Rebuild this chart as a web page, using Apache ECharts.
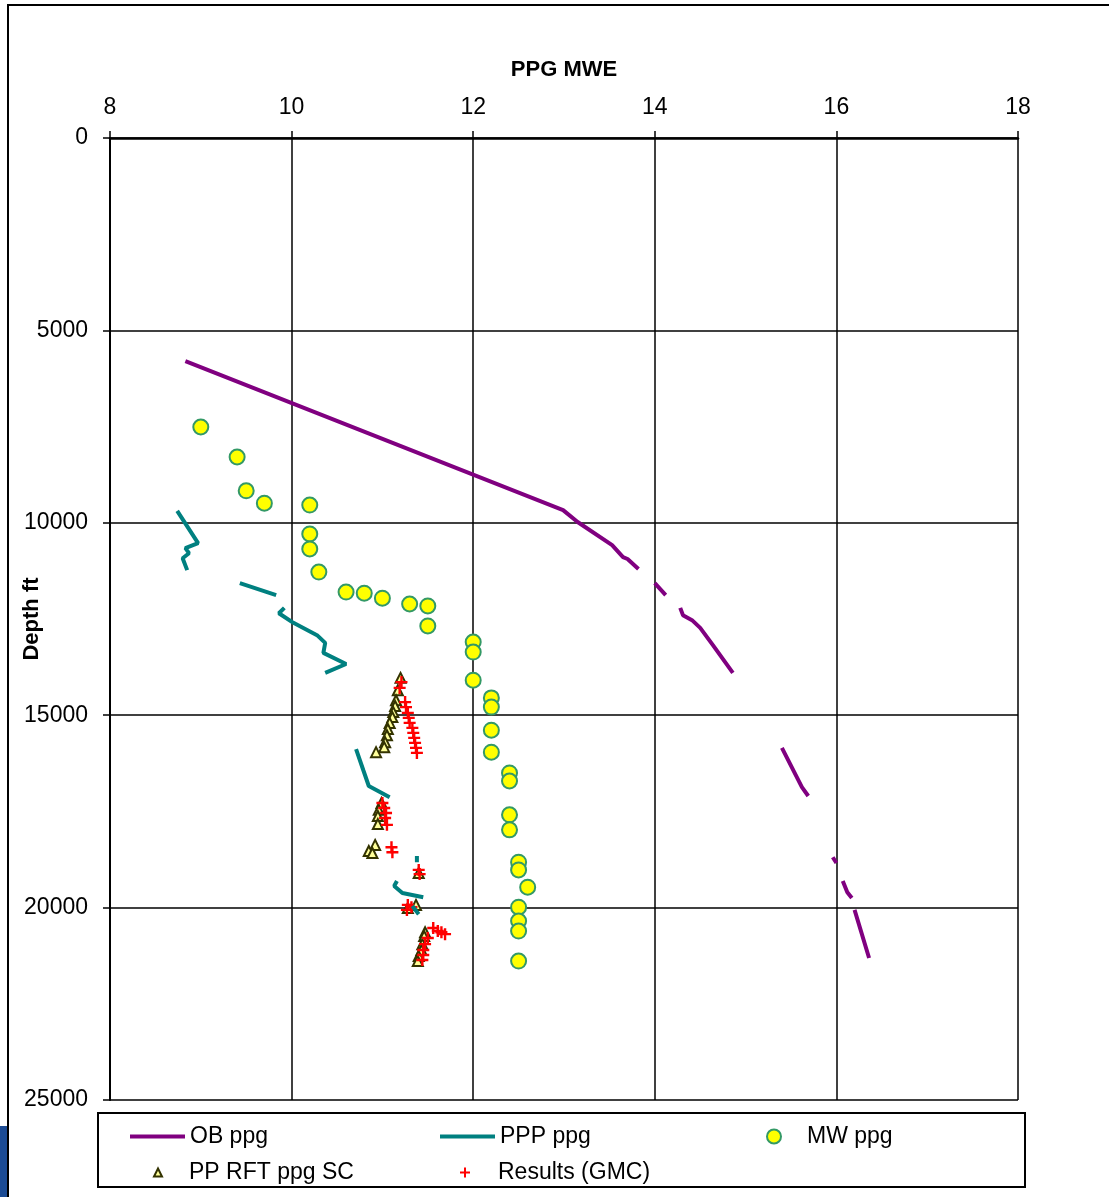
<!DOCTYPE html>
<html>
<head>
<meta charset="utf-8">
<script src="https://cdn.jsdelivr.net/npm/echarts@6/dist/echarts.min.js"></script>
<style>
html, body { margin: 0; padding: 0; background: #fff; }
#chart { width: 1109px; height: 1197px; }
</style>
</head>
<body>
<div id="chart"></div>
<script>
// overburden gradient, segments split by nulls
var obPpg   = [8.83, 12.99, 13.15, 13.53, 13.65, 13.70, 13.82, null, 14.00, 14.12, null, 14.28, 14.31, 14.41, 14.50, 14.64, 14.86, null, 15.40, 15.62, 15.69, null, 15.96, 16.00, null, 16.07, 16.12, 16.17, null, 16.20, 16.36];
var obDepth = [5800, 9670, 9980, 10580, 10890, 10940, 11200, null, 11570, 11880, null, 12210, 12400, 12530, 12730, 13180, 13900, null, 15850, 16870, 17100, null, 18690, 18840, null, 19310, 19600, 19750, null, 20060, 21310];

// predicted pore pressure
var pppPpg   = [8.74, 8.97, 8.83, 8.87, 8.80, 8.85, null, 9.43, 9.83, null, 9.92, 9.86, 10.02, 10.28, 10.37, 10.35, 10.60, 10.37, null, 10.71, 10.79, 10.85, 11.08, null, 11.38, 11.38, null, 11.16, 11.13, 11.22, 11.45, null, 11.33, 11.40];
var pppDepth = [9690, 10530, 10660, 10790, 10920, 11230, null, 11570, 11880, null, 12210, 12350, 12600, 12920, 13120, 13380, 13670, 13900, null, 15880, 16430, 16840, 17130, null, 18660, 18820, null, 19310, 19440, 19620, 19730, null, 19960, 20170];

// mud weight
var mwPpg   = [9.0, 9.4, 9.5, 9.7, 10.2, 10.2, 10.2, 10.3, 10.6, 10.8, 11.0, 11.3, 11.5, 11.5, 12.0, 12.0, 12.0, 12.2, 12.2, 12.2, 12.2, 12.4, 12.4, 12.4, 12.4, 12.5, 12.5, 12.6, 12.5, 12.5, 12.5, 12.5];
var mwDepth = [7510, 8290, 9170, 9490, 9540, 10290, 10680, 11280, 11800, 11830, 11960, 12110, 12160, 12680, 13100, 13360, 14090, 14550, 14790, 15390, 15960, 16500, 16710, 17590, 17980, 18820, 19020, 19470, 19990, 20350, 20610, 21390];

// RFT pore pressure
var rftPpg   = [11.20, 11.17, 11.15, 11.14, 11.12, 11.11, 11.08, 11.06, 11.05, 11.03, 11.02, 10.93, 10.99, 10.96, 10.95, 10.95, 10.92, 10.85, 10.89, 11.40, 11.28, 11.37, 11.47, 11.46, 11.44, 11.43, 11.40, 11.39];
var rftDepth = [14030, 14350, 14610, 14760, 14920, 15050, 15200, 15360, 15520, 15700, 15830, 15960, 17280, 17460, 17620, 17830, 18370, 18530, 18580, 19100, 20010, 19930, 20640, 20740, 20950, 21100, 21260, 21390];

// GMC results
var gmcPpg   = [11.21, 11.19, 11.25, 11.26, 11.28, 11.29, 11.30, 11.33, 11.34, 11.35, 11.36, 11.37, 11.38, 11.00, 11.02, 11.04, 11.03, 11.05, 11.10, 11.11, 11.40, 11.41, 11.28, 11.32, 11.27, 11.56, 11.61, 11.65, 11.69, 11.50, 11.47, 11.45, 11.45, 11.44];
var gmcDepth = [14140, 14290, 14660, 14790, 14940, 15070, 15200, 15330, 15460, 15590, 15720, 15850, 15980, 17280, 17410, 17540, 17670, 17850, 18430, 18560, 19020, 19130, 19930, 19990, 20060, 20530, 20610, 20640, 20690, 20790, 20950, 21100, 21230, 21360];

function pairs(xs, ys) {
    var out = [];
    for (var i = 0; i < xs.length; i++) {
        if (xs[i] === null) out.push('-');
        else out.push([xs[i], ys[i]]);
    }
    return out;
}

var plusPath = 'path://M4,0H6V4H10V6H6V10H4V6H0V4H4Z';
var txt = { fontFamily: 'Liberation Sans, Arial', color: '#000' };

var option = {
    animation: false,
    backgroundColor: '#fff',
    grid: { left: 110, right: 91, top: 138, bottom: 97, outerBoundsMode: 'none', containLabel: false },
    xAxis: {
        type: 'value',
        position: 'top',
        min: 8, max: 18, interval: 2,
        name: 'PPG MWE',
        nameLocation: 'middle',
        nameGap: 57,
        nameMoveOverlap: false,
        nameTextStyle: { fontFamily: 'Liberation Sans, Arial', fontSize: 22, fontWeight: 'bold', color: '#000' },
        axisLine: { show: true, lineStyle: { color: '#000', width: 2.5 } },
        axisTick: { show: true, length: 7, lineStyle: { color: '#000', width: 1.5 } },
        axisLabel: { fontFamily: 'Liberation Sans, Arial', fontSize: 23, color: '#000', margin: 19 },
        splitLine: { show: true, lineStyle: { color: '#000', width: 1.5 } }
    },
    yAxis: {
        type: 'value',
        inverse: true,
        min: 0, max: 25000, interval: 5000,
        name: 'Depth ft',
        nameLocation: 'middle',
        nameGap: 67,
        nameRotate: 90,
        nameMoveOverlap: false,
        nameTextStyle: { fontFamily: 'Liberation Sans, Arial', fontSize: 22, fontWeight: 'bold', color: '#000' },
        axisLine: { show: true, lineStyle: { color: '#000', width: 2 } },
        axisTick: { show: true, length: 7, lineStyle: { color: '#000', width: 1.5 } },
        axisLabel: { fontFamily: 'Liberation Sans, Arial', fontSize: 23, color: '#000', margin: 22, formatter: function (v) { return String(v); } },
        splitLine: { show: true, lineStyle: { color: '#000', width: 1.5 } }
    },
    legend: [
        { data: [{ name: 'OB ppg', icon: 'rect' }], left: 130, top: 1125, padding: 0, itemWidth: 55, itemHeight: 4, textStyle: Object.assign({ fontSize: 23 }, txt) },
        { data: [{ name: 'PPP ppg', icon: 'rect' }], left: 440, top: 1125, padding: 0, itemWidth: 55, itemHeight: 4, textStyle: Object.assign({ fontSize: 23 }, txt) },
        { data: ['MW ppg'], left: 766, top: 1125, padding: 0, itemWidth: 14, itemHeight: 14, textStyle: Object.assign({ fontSize: 23, padding: [0, 0, 0, 21] }, txt) },
        { data: ['PP RFT ppg SC'], left: 153, top: 1161, padding: 0, itemWidth: 8, itemHeight: 8, textStyle: Object.assign({ fontSize: 23, padding: [0, 0, 0, 22] }, txt) },
        { data: ['Results (GMC)'], left: 460, top: 1161, padding: 0, itemWidth: 10, itemHeight: 10, textStyle: Object.assign({ fontSize: 23, padding: [0, 0, 0, 23] }, txt) }
    ],
    graphic: [
        { type: 'polyline', shape: { points: [[8, 1197], [8, 5], [1109, 5]] }, style: { stroke: '#000', lineWidth: 2, fill: null } },
        { type: 'rect', shape: { x: 0, y: 1126, width: 7, height: 71 }, style: { fill: '#1c4b94' } },
        { type: 'rect', shape: { x: 98, y: 1113, width: 927, height: 74 }, style: { stroke: '#000', lineWidth: 2, fill: null }, z: -1 }
    ],
    series: [
        {
            name: 'OB ppg', type: 'line', symbol: 'none', connectNulls: false,
            lineStyle: { color: '#800080', width: 4 }, itemStyle: { color: '#800080' },
            data: pairs(obPpg, obDepth)
        },
        {
            name: 'PPP ppg', type: 'line', symbol: 'none', connectNulls: false,
            lineStyle: { color: '#008080', width: 4 }, itemStyle: { color: '#008080' },
            data: pairs(pppPpg, pppDepth)
        },
        {
            name: 'MW ppg', type: 'scatter', symbol: 'circle', symbolSize: 15,
            itemStyle: { color: '#ffff00', borderColor: '#339966', borderWidth: 2, opacity: 1 },
            data: pairs(mwPpg, mwDepth)
        },
        {
            name: 'PP RFT ppg SC', type: 'scatter', symbol: 'triangle', symbolSize: 10,
            itemStyle: { color: '#ffff99', borderColor: '#333300', borderWidth: 2, opacity: 1 },
            data: pairs(rftPpg, rftDepth)
        },
        {
            name: 'Results (GMC)', type: 'scatter', symbol: plusPath, symbolSize: 12,
            itemStyle: { color: '#ff0000', opacity: 1 },
            data: pairs(gmcPpg, gmcDepth)
        }
    ]
};

var chart = echarts.init(document.getElementById('chart'));
chart.setOption(option);
</script>
</body>
</html>
